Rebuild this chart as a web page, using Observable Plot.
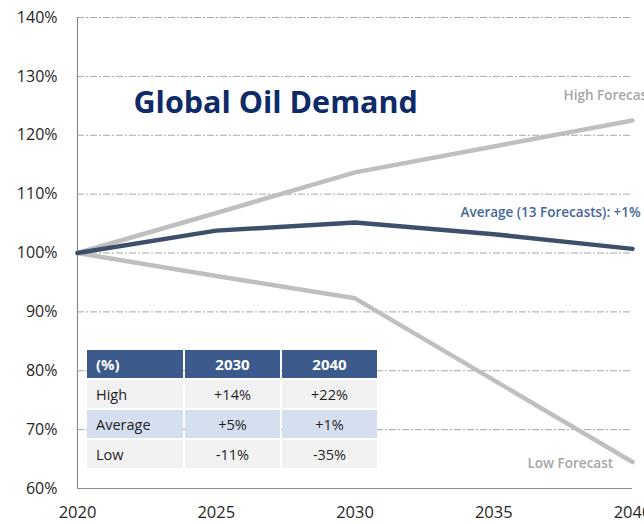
<!DOCTYPE html>
<html>
<head>
<meta charset="utf-8">
<script src="https://cdn.jsdelivr.net/npm/d3@7"></script>
<script src="https://cdn.jsdelivr.net/npm/@observablehq/plot@0.6"></script>
<style>
  html, body { margin: 0; padding: 0; background: #fff; overflow: hidden; }
  #wrap { position: relative; width: 644px; height: 524px; font-family: "Open Sans", Lato, sans-serif; }
  #tbl { position: absolute; left: 87px; top: 350px; display: grid;
         grid-template-columns: 96px 95px 95px; grid-auto-rows: 28px; gap: 2px;
         font-size: 14.5px; color: #1f1f1f; }
  #tbl div { display: flex; align-items: center; justify-content: center; }
  #tbl div.first { justify-content: flex-start; padding-left: 9px; }
  #tbl div.hdr { background: #3c5a8b; color: #fff; font-weight: bold; font-size: 15px; }
  #tbl div.r0, #tbl div.r2 { background: #f2f2f2; }
  #tbl div.r1 { background: #d6dff0; }
</style>
</head>
<body>
<div id="wrap"></div>
<script>
// ---- data ----
const years = [2020, 2025, 2030, 2035, 2040];
const high = [100, 106.8, 113.7, 118.1, 122.5];
const average = [100, 103.8, 105.2, 103.2, 100.7];
const low = [100, 96.1, 92.3, 78.4, 64.5];
const yTicks = [60, 70, 80, 90, 100, 110, 120, 130, 140];
const gridTicks = [70, 80, 90, 100, 110, 120, 130, 140];

const tableHeader = ["(%)", "2030", "2040"];
const rowLabels = ["High", "Average", "Low"];
const col2030 = ["+14%", "+5%", "-11%"];
const col2040 = ["+22%", "+1%", "-35%"];

const seriesNames = ["High", "Low", "Average"];
const seriesValues = { High: high, Low: low, Average: average };
const rows = seriesNames.flatMap(s => years.map((y, i) => ({ series: s, year: y, value: seriesValues[s][i] })));

const chart = Plot.plot({
  width: 644,
  height: 524,
  marginLeft: 77,
  marginRight: 12,
  marginTop: 17,
  marginBottom: 36,
  style: { fontFamily: "'Open Sans', Lato, sans-serif", color: "#262626", background: "#fff" },
  x: { domain: [2020, 2040] },
  y: { domain: [60, 140] },
  color: { domain: seriesNames, range: ["#bfbfbf", "#bfbfbf", "#3e4f6c"] },
  marks: [
    Plot.ruleY(gridTicks, { stroke: "#a6a6a6", strokeWidth: 1, strokeDasharray: "7,2,2,2" }),
    Plot.ruleX([2020], { stroke: "#8c8c8c", strokeWidth: 1.2 }),
    Plot.ruleY([60], { stroke: "#8c8c8c", strokeWidth: 1.2 }),
    Plot.axisY({ ticks: yTicks, tickSize: 0, tickPadding: 20, fontSize: 16, tickFormat: d => d + "%", label: null }),
    Plot.axisX({ ticks: years, tickSize: 0, tickPadding: 18, fontSize: 16.5, tickFormat: d => String(d), label: null }),
    Plot.line(rows, { x: "year", y: "value", z: "series", stroke: "series", strokeWidth: 4.5 }),
    Plot.text(["Global Oil Demand"], { frameAnchor: "top-left", dx: 56, dy: 86, textAnchor: "start", lineAnchor: "middle", fontSize: 30.5, fontWeight: "bold", fill: "#0e2a68" }),
    Plot.text(["High Forecast"], { frameAnchor: "top-left", dx: 486, dy: 78, textAnchor: "start", lineAnchor: "middle", fontSize: 13.5, fontWeight: 600, fill: "#a6a6a6" }),
    Plot.text(["Average (13 Forecasts): +1%"], { frameAnchor: "top-left", dx: 383, dy: 195, textAnchor: "start", lineAnchor: "middle", fontSize: 13.5, fontWeight: 600, fill: "#47679a" }),
    Plot.text(["Low Forecast"], { frameAnchor: "top-left", dx: 450, dy: 446, textAnchor: "start", lineAnchor: "middle", fontSize: 13.5, fontWeight: 600, fill: "#a6a6a6" })
  ]
});

const wrap = document.getElementById("wrap");
wrap.appendChild(chart);

// summary table
const tbl = document.createElement("div");
tbl.id = "tbl";
tableHeader.forEach((h, i) => {
  const d = document.createElement("div");
  d.className = "hdr" + (i === 0 ? " first" : "");
  d.textContent = h;
  tbl.appendChild(d);
});
rowLabels.forEach((r, i) => {
  [r, col2030[i], col2040[i]].forEach((v, j) => {
    const d = document.createElement("div");
    d.className = "r" + i + (j === 0 ? " first" : "");
    d.textContent = v;
    tbl.appendChild(d);
  });
});
wrap.appendChild(tbl);
</script>
</body>
</html>
